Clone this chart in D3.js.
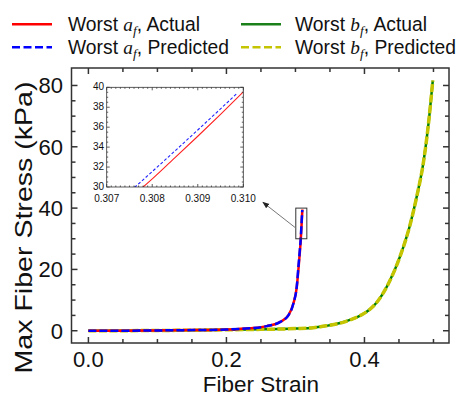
<!DOCTYPE html>
<html>
<head>
<meta charset="utf-8">
<script src="https://cdn.jsdelivr.net/npm/d3@7"></script>
<style>
  body { margin: 0; background: #fff; }
  text { font-family: "Liberation Sans", Arial, sans-serif; }
</style>
</head>
<body>
<svg id="chart" width="462" height="397"></svg>
<script>
// data
const aStrainActual = [0, 0.05, 0.1, 0.15, 0.2, 0.234, 0.2585, 0.278, 0.29, 0.297, 0.302, 0.3045, 0.3065, 0.3078, 0.3085, 0.309, 0.3095, 0.310]
const aStressActual = [0, 0.02, 0.1, 0.2, 0.4, 0.8, 1.5, 2.9, 5.1, 8.9, 14.4, 20.5, 26.0, 30.0, 32.94, 35.09, 37.29, 39.54]
const aStrainPredicted = [0, 0.05, 0.1, 0.15, 0.2, 0.234, 0.2585, 0.278, 0.29, 0.297, 0.302, 0.3043, 0.3063, 0.30762, 0.308, 0.3085, 0.309, 0.3095, 0.30986]
const aStressPredicted = [0, 0.02, 0.1, 0.2, 0.4, 0.8, 1.5, 2.9, 5.1, 8.9, 14.6, 20.9, 26.2, 30.0, 31.55, 33.62, 35.72, 37.84, 39.38]
const bStrain = [0, 0.05, 0.1, 0.15, 0.2, 0.25, 0.3, 0.326, 0.345, 0.365, 0.38, 0.396, 0.408, 0.418, 0.435, 0.452, 0.466, 0.476, 0.4855, 0.493, 0.499]
const bStressActual = [0, 0.02, 0.08, 0.17, 0.3, 0.45, 0.7, 1.0, 1.6, 2.5, 3.6, 5.2, 7.0, 9.3, 15.5, 24.5, 34.5, 44.0, 55.0, 68.0, 81.6]
const bStressPredicted = [0, 0.02, 0.08, 0.17, 0.3, 0.45, 0.7, 1.0, 1.6, 2.5, 3.6, 5.2, 7.0, 9.3, 15.5, 24.5, 34.5, 44.0, 55.0, 68.0, 81.6]

const xTicks = [0, 0.2, 0.4]
const yTicks = [0, 20, 40, 60, 80]
const insetXTicks = [0.307, 0.308, 0.309, 0.310]
const insetYTicks = [30, 32, 34, 36, 38, 40]
const zoomBox = { x0: 0.3005, x1: 0.3165, y0: 30, y1: 40 }

const svg = d3.select('#chart')

const x = d3.scaleLinear().domain([-0.0245, 0.5225]).range([71.5, 449])
const y = d3.scaleLinear().domain([-4, 85.7]).range([343, 68])

const zip = (xs, ys) => xs.map((v, i) => [v, ys[i]])

function drawFrame (g, xs, ys, majorX, minorX, majorY, minorY, tl, tm, sw) {
  const [x0, x1] = xs.range()
  const [y0, y1] = ys.range()
  const tick = g.append('g').attr('stroke', '#333').attr('stroke-width', sw)
  minorX.forEach(v => {
    const len = majorX.some(m => Math.abs(m - v) < 1e-9) ? tl : tm
    tick.append('line').attr('x1', xs(v)).attr('x2', xs(v)).attr('y1', y0).attr('y2', y0 - len)
    tick.append('line').attr('x1', xs(v)).attr('x2', xs(v)).attr('y1', y1).attr('y2', y1 + len)
  })
  minorY.forEach(v => {
    const len = majorY.some(m => Math.abs(m - v) < 1e-9) ? tl : tm
    tick.append('line').attr('y1', ys(v)).attr('y2', ys(v)).attr('x1', x0).attr('x2', x0 + len)
    tick.append('line').attr('y1', ys(v)).attr('y2', ys(v)).attr('x1', x1).attr('x2', x1 - len)
  })
  g.append('rect')
    .attr('x', x0).attr('y', y1).attr('width', x1 - x0).attr('height', y0 - y1)
    .attr('fill', 'none').attr('stroke', '#333').attr('stroke-width', sw)
}

// main curves
const line = d3.line().x(d => x(d[0])).y(d => y(d[1])).curve(d3.curveMonotoneX)

svg.append('path').datum(zip(bStrain, bStressActual)).attr('d', line)
  .attr('fill', 'none').attr('stroke', '#008000').attr('stroke-width', 2.5)
svg.append('path').datum(zip(bStrain, bStressPredicted)).attr('d', line)
  .attr('fill', 'none').attr('stroke', '#c4c400').attr('stroke-width', 3.5).attr('stroke-dasharray', '8,2.5')
svg.append('path').datum(zip(aStrainActual, aStressActual)).attr('d', line)
  .attr('fill', 'none').attr('stroke', '#ff0000').attr('stroke-width', 2.5)
svg.append('path').datum(zip(aStrainPredicted, aStressPredicted)).attr('d', line)
  .attr('fill', 'none').attr('stroke', '#0000ff').attr('stroke-width', 2.5).attr('stroke-dasharray', '8,3')

// main frame and ticks
drawFrame(svg.append('g'), x, y, xTicks, d3.range(0, 0.501, 0.05), yTicks, d3.range(0, 85, 5), 6, 4, 1.5)

svg.append('g').selectAll('text').data(xTicks).join('text')
  .attr('x', d => x(d)).attr('y', 367).attr('text-anchor', 'middle')
  .attr('font-size', 22).attr('fill', '#111').text(d => d3.format('.1f')(d))
svg.append('g').selectAll('text').data(yTicks).join('text')
  .attr('x', 63).attr('y', d => y(d) + 8).attr('text-anchor', 'end')
  .attr('font-size', 22).attr('fill', '#111').text(d => d)

svg.append('text').attr('x', 261).attr('y', 392).attr('text-anchor', 'middle')
  .attr('font-size', 22.5).attr('fill', '#111').text('Fiber Strain')
svg.append('text').attr('transform', 'translate(32,227.5) rotate(-90)').attr('text-anchor', 'middle')
  .attr('font-size', 24.5).attr('textLength', 292).attr('lengthAdjust', 'spacingAndGlyphs')
  .attr('fill', '#111').text('Max Fiber Stress (kPa)')

// zoom box and arrow
svg.append('defs').append('marker')
  .attr('id', 'head').attr('viewBox', '0 0 10 10').attr('refX', 9).attr('refY', 5)
  .attr('markerWidth', 7).attr('markerHeight', 7).attr('orient', 'auto')
  .append('path').attr('d', 'M0,1 L10,5 L0,9 Z').attr('fill', '#222')
svg.append('rect')
  .attr('x', x(zoomBox.x0)).attr('y', y(zoomBox.y1))
  .attr('width', x(zoomBox.x1) - x(zoomBox.x0)).attr('height', y(zoomBox.y0) - y(zoomBox.y1))
  .attr('fill', 'none').attr('stroke', '#333').attr('stroke-width', 1)
svg.append('line')
  .attr('x1', x(zoomBox.x0)).attr('y1', y(33.5)).attr('x2', x(0.2528)).attr('y2', y(41.9))
  .attr('stroke', '#777').attr('stroke-width', 1).attr('marker-end', 'url(#head)')

// inset
const ix = d3.scaleLinear().domain([0.307, 0.310]).range([106.7, 243.3])
const iy = d3.scaleLinear().domain([30, 40]).range([187, 87.3])
const inset = svg.append('g')
inset.append('rect').attr('x', 106.7).attr('y', 87.3).attr('width', 136.6).attr('height', 99.7).attr('fill', '#fff')
inset.append('clipPath').attr('id', 'iclip').append('rect')
  .attr('x', 106.7).attr('y', 87.3).attr('width', 136.6).attr('height', 99.7)
const iline = d3.line().x(d => ix(d[0])).y(d => iy(d[1])).curve(d3.curveMonotoneX)
const ic = inset.append('g').attr('clip-path', 'url(#iclip)')
ic.append('path').datum(zip(aStrainActual, aStressActual)).attr('d', iline)
  .attr('fill', 'none').attr('stroke', '#ff2020').attr('stroke-width', 1.1)
ic.append('path').datum(zip(aStrainPredicted, aStressPredicted)).attr('d', iline)
  .attr('fill', 'none').attr('stroke', '#2020ff').attr('stroke-width', 1.1).attr('stroke-dasharray', '3,2')

drawFrame(inset.append('g'), ix, iy, insetXTicks, d3.range(0.307, 0.31001, 0.0001), insetYTicks, d3.range(30, 40.01, 0.5), 3, 1.5, 0.8)

inset.append('g').selectAll('text').data(insetXTicks).join('text')
  .attr('x', d => ix(d)).attr('y', 201.5).attr('text-anchor', 'middle')
  .attr('font-size', 10).attr('fill', '#111').text(d => d3.format('.3f')(d))
inset.append('g').selectAll('text').data(insetYTicks).join('text')
  .attr('x', 104).attr('y', d => iy(d) + 3).attr('text-anchor', 'end')
  .attr('font-size', 10).attr('fill', '#111').text(d => d)

// legend
const legendItems = [
  { sym: 'a', label: ', Actual', color: '#ff0000', dash: null, lx: 12, tx: 68, ly: 24.3 },
  { sym: 'a', label: ', Predicted', color: '#0000ff', dash: '8,3.5', lx: 12, tx: 68, ly: 47.3 },
  { sym: 'b', label: ', Actual', color: '#1a801a', dash: null, lx: 241, tx: 295, ly: 24.3 },
  { sym: 'b', label: ', Predicted', color: '#c4c400', dash: '8,3.5', lx: 241, tx: 295, ly: 47.3 }
]
const leg = svg.append('g').selectAll('g').data(legendItems).join('g')
leg.append('line')
  .attr('x1', d => d.lx).attr('x2', d => d.lx + 40).attr('y1', d => d.ly).attr('y2', d => d.ly)
  .attr('stroke', d => d.color).attr('stroke-width', 2.5).attr('stroke-dasharray', d => d.dash)
const lt = leg.append('text').attr('x', d => d.tx).attr('y', d => d.ly + 6.8)
  .attr('font-size', 19.3).attr('fill', '#111')
lt.append('tspan').text('Worst ')
lt.append('tspan').attr('font-family', '"Liberation Serif", "DejaVu Serif", serif')
  .attr('font-style', 'italic').text(d => d.sym)
lt.append('tspan').attr('font-family', '"Liberation Serif", "DejaVu Serif", serif')
  .attr('font-style', 'italic').attr('font-size', 13.5).attr('dy', 4).text('f')
lt.append('tspan').attr('dy', -4).text(d => d.label)
</script>
</body>
</html>
